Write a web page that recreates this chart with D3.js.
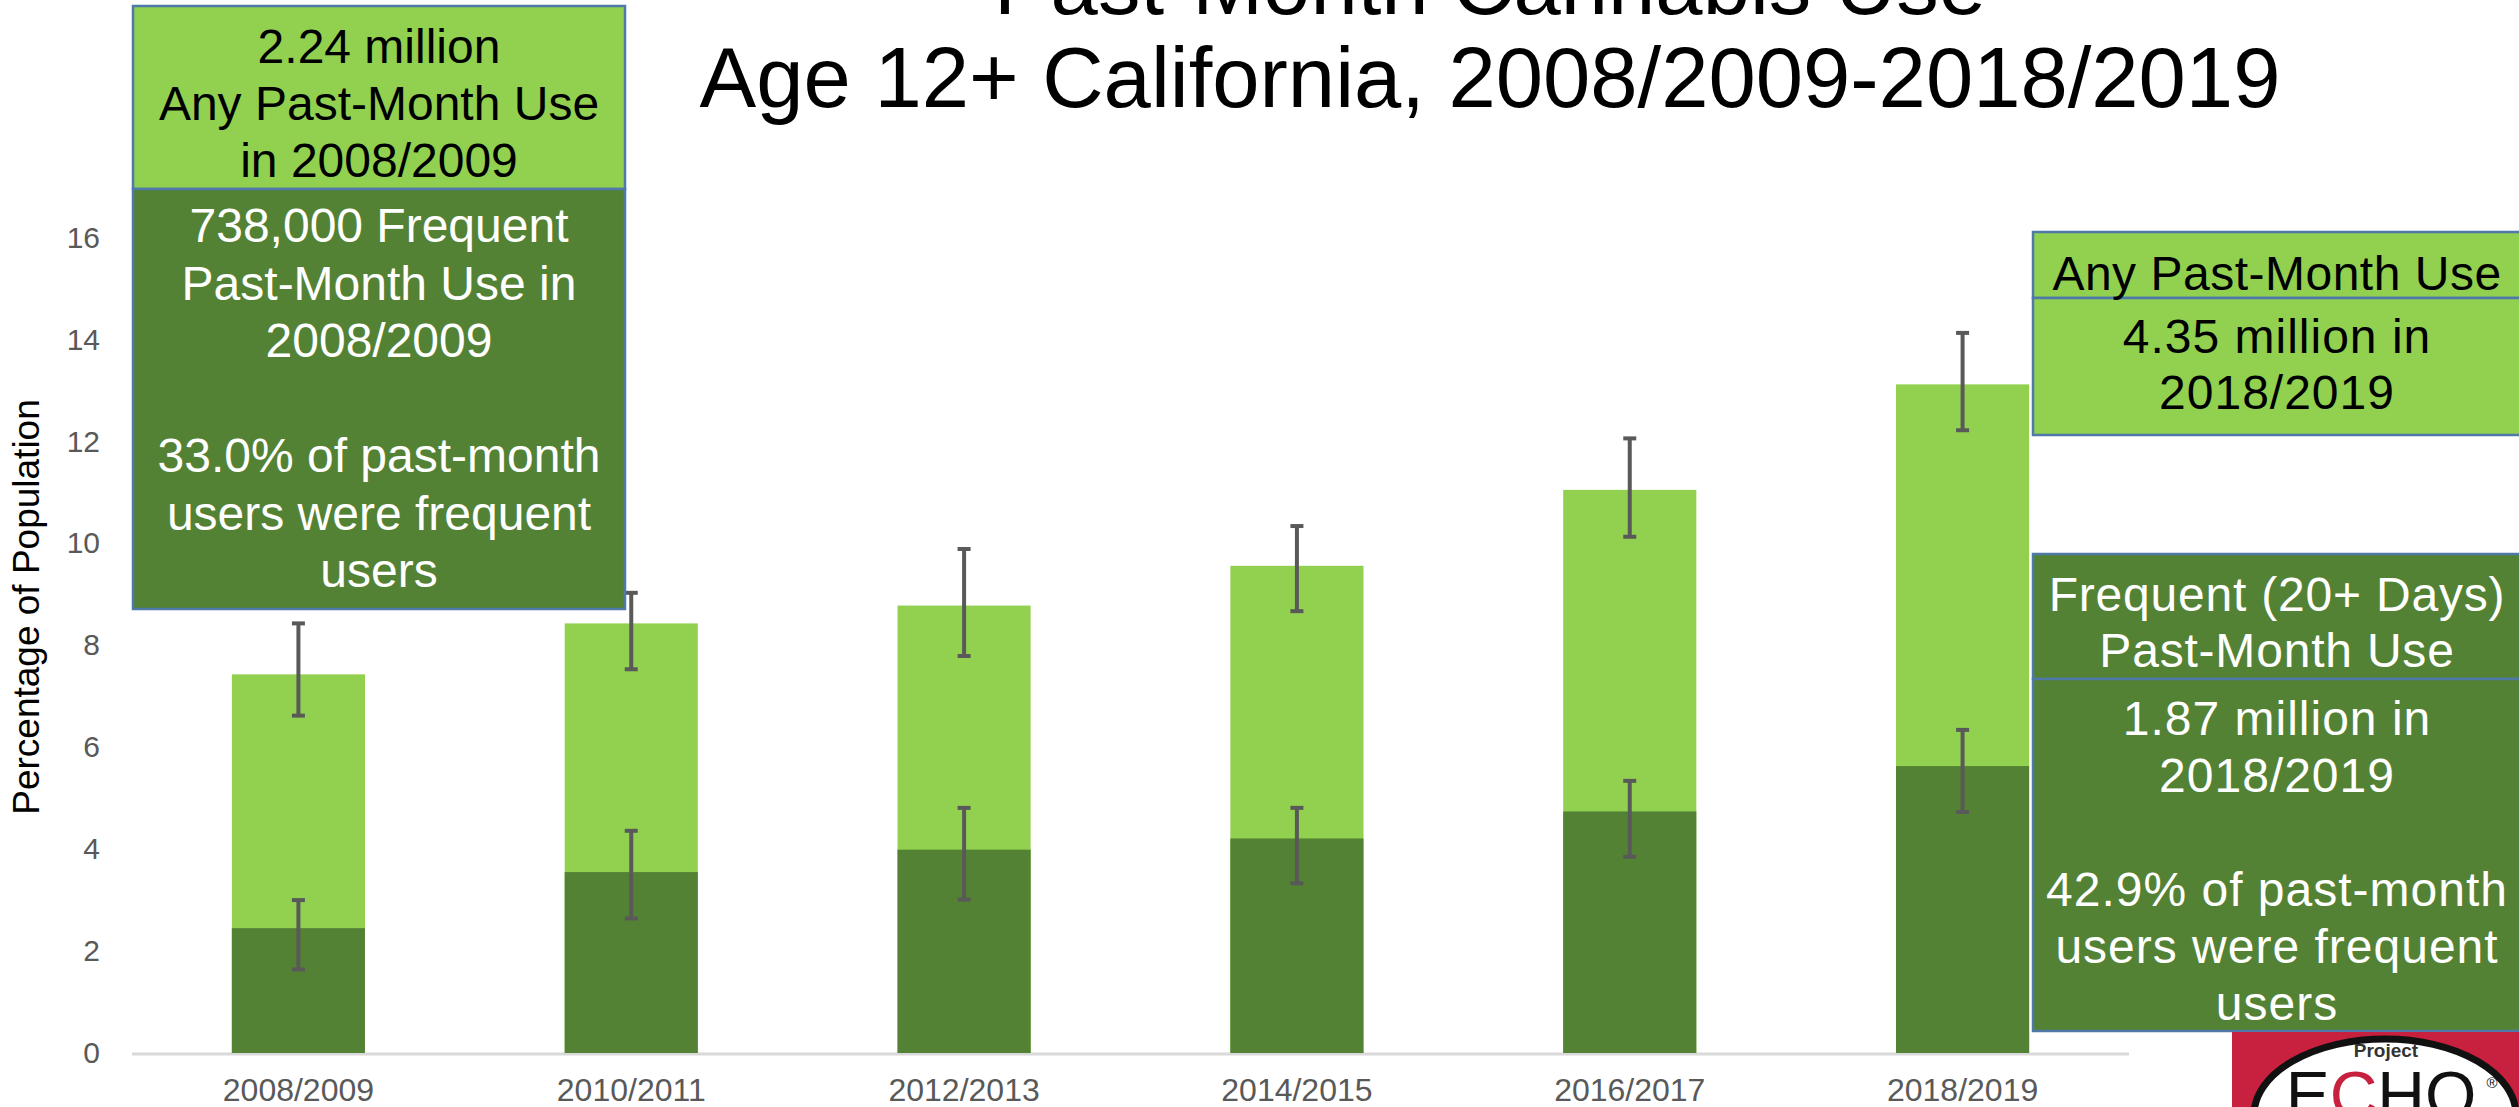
<!DOCTYPE html>
<html>
<head>
<meta charset="utf-8">
<script src="https://cdn.jsdelivr.net/npm/d3@7"></script>
<style>
  html, body { margin: 0; padding: 0; background: #ffffff; }
  svg { display: block; }
  text { font-family: "Liberation Sans", Arial, sans-serif; }
</style>
</head>
<body>
<svg id="chart" width="2519" height="1107"></svg>
<script>
// ---- Data ----
const categories = ["2008/2009", "2010/2011", "2012/2013", "2014/2015", "2016/2017", "2018/2019"];
const anyUse   = [7.43, 8.43, 8.78, 9.56, 11.05, 13.12];
const anyLow   = [6.62, 7.53, 7.79, 8.67, 10.13, 12.22];
const anyHigh  = [8.43, 9.03, 9.89, 10.34, 12.06, 14.13];
const freqUse  = [2.45, 3.55, 3.99, 4.21, 4.74, 5.63];
const freqLow  = [1.64, 2.64, 3.01, 3.33, 3.85, 4.73];
const freqHigh = [3.00, 4.36, 4.81, 4.81, 5.34, 6.34];
const yTicks   = [0, 2, 4, 6, 8, 10, 12, 14, 16];

const titleLines = ["Past-Month Cannabis Use", "Age 12+ California, 2008/2009-2018/2019"];
const yTitle = "Percentage of Population";
const box1Top = ["2.24 million", "Any Past-Month Use", "in 2008/2009"];
const box1Bottom = ["738,000 Frequent", "Past-Month Use in", "2008/2009", "", "33.0% of past-month", "users were frequent", "users"];
const boxAnyHead = ["Any Past-Month Use"];
const boxAnyBody = ["4.35 million in", "2018/2019"];
const boxFreqHead = ["Frequent (20+ Days)", "Past-Month Use"];
const boxFreqBody = ["1.87 million in", "2018/2019", "", "42.9% of past-month", "users were frequent", "users"];

// ---- Colors ----
const LIGHT = "#92D050", DARK = "#548235", ERR = "#595959", BORDER = "#4E79A9";

const svg = d3.select("#chart");

const x = d3.scaleBand().domain(categories).range([132, 2129]).paddingInner(0.6).paddingOuter(0.3);
const y = d3.scaleLinear().domain([0, 16]).range([1053, 237.6]);

// baseline
svg.append("line").attr("x1", 132).attr("x2", 2129)
  .attr("y1", y(0) + 1).attr("y2", y(0) + 1)
  .attr("stroke", "#D9D9D9").attr("stroke-width", 3);

// y ticks
const yAxis = d3.axisLeft(y).tickValues(yTicks).tickSize(0).tickPadding(0);
const gy = svg.append("g").attr("transform", "translate(100,0)").call(yAxis);
gy.select(".domain").remove();
gy.selectAll("text").attr("font-size", 30).attr("fill", "#595959")
  .attr("font-family", "'Liberation Sans', Arial, sans-serif");

// x labels
const xAxis = d3.axisBottom(x).tickSize(0).tickPadding(0);
const gx = svg.append("g").attr("transform", "translate(0,1078)").call(xAxis);
gx.select(".domain").remove();
gx.selectAll("text").attr("font-size", 32).attr("fill", "#595959").attr("dy", "0.71em")
  .attr("font-family", "'Liberation Sans', Arial, sans-serif");

// y title
svg.append("text")
  .attr("transform", "translate(39,607) rotate(-90)")
  .attr("text-anchor", "middle")
  .attr("font-size", 37).attr("fill", "#000")
  .text(yTitle);

// bars
const idx = d3.range(categories.length);
svg.append("g").selectAll("rect").data(idx).join("rect")
  .attr("x", i => x(categories[i])).attr("width", x.bandwidth())
  .attr("y", i => y(anyUse[i])).attr("height", i => y(0) - y(anyUse[i]))
  .attr("fill", LIGHT);
svg.append("g").selectAll("rect").data(idx).join("rect")
  .attr("x", i => x(categories[i])).attr("width", x.bandwidth())
  .attr("y", i => y(freqUse[i])).attr("height", i => y(0) - y(freqUse[i]))
  .attr("fill", DARK);

// error bars
function errBars(lo, hi) {
  const g = svg.append("g").attr("stroke", ERR).attr("stroke-width", 4);
  idx.forEach(i => {
    const cx = x(categories[i]) + x.bandwidth() / 2;
    g.append("line").attr("x1", cx).attr("x2", cx).attr("y1", y(hi[i])).attr("y2", y(lo[i]));
    g.append("line").attr("x1", cx - 6.5).attr("x2", cx + 6.5).attr("y1", y(hi[i])).attr("y2", y(hi[i]));
    g.append("line").attr("x1", cx - 6.5).attr("x2", cx + 6.5).attr("y1", y(lo[i])).attr("y2", y(lo[i]));
  });
}
errBars(anyLow, anyHigh);
errBars(freqLow, freqHigh);

// title
const title = svg.append("text").attr("text-anchor", "middle").attr("font-size", 85).attr("fill", "#000");
title.append("tspan").attr("x", 1490).attr("y", 14).text(titleLines[0]);
title.append("tspan").attr("x", 1490).attr("y", 107).text(titleLines[1]);

// annotation boxes
function box(x0, y0, w, h, fill) {
  svg.append("rect").attr("x", x0).attr("y", y0).attr("width", w).attr("height", h)
    .attr("fill", fill).attr("stroke", BORDER).attr("stroke-width", 2.5);
}
function lines(cx, firstBaseline, step, arr, color, size, ls) {
  const t = svg.append("text").attr("text-anchor", "middle").attr("font-size", size)
    .attr("fill", color).attr("letter-spacing", ls || 0);
  arr.forEach((s, k) => {
    if (s) t.append("tspan").attr("x", cx).attr("y", firstBaseline + k * step).text(s);
  });
}

// left box
box(133, 6, 492, 183, LIGHT);
box(133, 189, 492, 420, DARK);
lines(379, 63, 57, box1Top, "#000", 48);
lines(379, 242, 57.5, box1Bottom, "#fff", 48);

// right boxes
box(2033, 232, 520, 66, LIGHT);
box(2033, 298, 520, 137, LIGHT);
lines(2277, 290, 56, boxAnyHead, "#000", 48, 0.5);
lines(2277, 353, 56, boxAnyBody, "#000", 48, 1);

box(2033, 554, 520, 125, DARK);
box(2033, 679, 520, 352, DARK);
lines(2277, 611, 56, boxFreqHead, "#fff", 48, 0.8);
lines(2277, 735, 57, boxFreqBody, "#fff", 48, 1);

// Project ECHO logo
const logo = svg.append("g");
logo.append("rect").attr("x", 2232).attr("y", 1032).attr("width", 300).attr("height", 80).attr("fill", "#C8203F");
logo.append("ellipse").attr("cx", 2385).attr("cy", 1115).attr("rx", 131).attr("ry", 76)
  .attr("fill", "#fff").attr("stroke", "#111").attr("stroke-width", 7);
logo.append("text").attr("x", 2386).attr("y", 1057).attr("text-anchor", "middle")
  .attr("font-size", 19).attr("font-weight", "bold").attr("fill", "#333").text("Project");
const echo = logo.append("text").attr("x", 2381).attr("y", 1118).attr("text-anchor", "middle")
  .attr("font-size", 66).attr("fill", "#111");
echo.append("tspan").text("E");
echo.append("tspan").attr("fill", "#C8203F").text("C");
echo.append("tspan").text("HO");
logo.append("text").attr("x", 2492).attr("y", 1088).attr("text-anchor", "middle")
  .attr("font-size", 15).attr("fill", "#111").text("®");
</script>
</body>
</html>
